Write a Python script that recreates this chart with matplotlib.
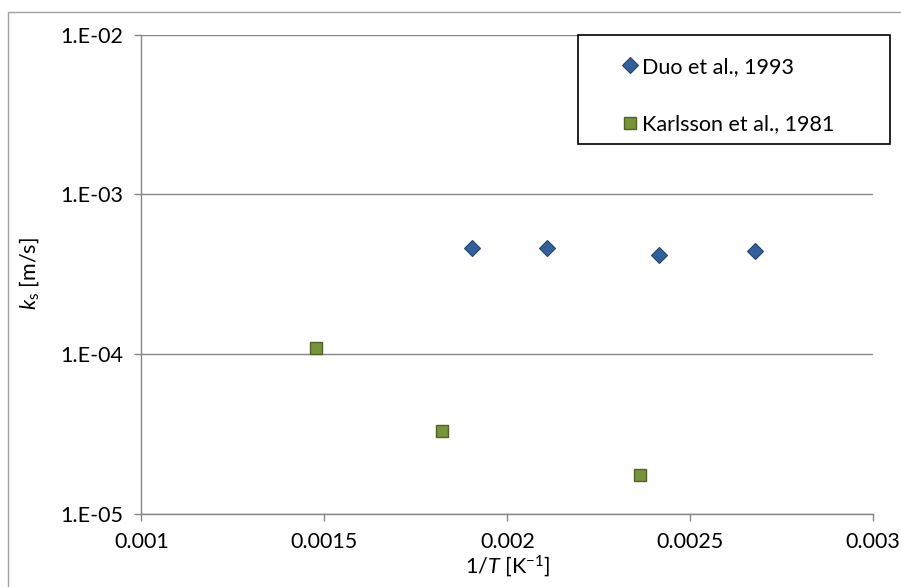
import matplotlib
matplotlib.use('Agg')
import matplotlib.pyplot as plt
from matplotlib.patches import Rectangle
from matplotlib.ticker import FixedLocator, FixedFormatter, NullLocator

plt.rcParams['font.family'] = ['Lato', 'DejaVu Sans']
plt.rcParams['mathtext.fontset'] = 'custom'
plt.rcParams['mathtext.rm'] = 'Lato'
plt.rcParams['mathtext.it'] = 'Lato:italic'

# inverse temperature [1/K] and surface rate constant [m/s]
duo_x = [0.001904, 0.002108, 0.002414, 0.002676]
duo_k = [4.64e-4, 4.64e-4, 4.15e-4, 4.40e-4]
karlsson_x = [0.001477, 0.001822, 0.002363]
karlsson_k = [1.09e-4, 3.30e-5, 1.74e-5]

x_ticks = [0.001, 0.0015, 0.002, 0.0025, 0.003]
x_tick_labels = ['0.001', '0.0015', '0.002', '0.0025', '0.003']
y_ticks = [1e-5, 1e-4, 1e-3, 1e-2]
y_tick_labels = ['1.E-05', '1.E-04', '1.E-03', '1.E-02']

W, H = 901, 587
fs = 15.5
fig = plt.figure(figsize=(W / 100, H / 100), dpi=100)
ax = fig.add_axes([141.3 / W, 1 - 513.7 / H, 732 / W, 479.1 / H])

grey = '#868686'
ax.plot(duo_x, duo_k, linestyle='none', marker='D', markersize=8.6,
        markerfacecolor='#33609A', markeredgecolor='#24466F', markeredgewidth=0.8,
        label='Duo et al., 1993', zorder=3)
ax.plot(karlsson_x, karlsson_k, linestyle='none', marker='s', markersize=8.6,
        markerfacecolor='#77933C', markeredgecolor='#4F6228', markeredgewidth=1.0,
        label='Karlsson et al., 1981', zorder=3)

ax.set_yscale('log')
ax.set_xlim(x_ticks[0], x_ticks[-1])
ax.set_ylim(y_ticks[0], y_ticks[-1])
ax.xaxis.set_major_locator(FixedLocator(x_ticks))
ax.xaxis.set_major_formatter(FixedFormatter(x_tick_labels))
ax.yaxis.set_major_locator(FixedLocator(y_ticks))
ax.yaxis.set_major_formatter(FixedFormatter(y_tick_labels))
ax.yaxis.set_minor_locator(NullLocator())

ax.grid(axis='y', color=grey, linewidth=1.0)
ax.grid(axis='x', visible=False)
ax.set_axisbelow(True)
for side in ('top', 'right'):
    ax.spines[side].set_visible(False)
for side in ('left', 'bottom'):
    ax.spines[side].set_color(grey)
    ax.spines[side].set_linewidth(1.0)
ax.tick_params(axis='both', which='major', color=grey, length=5, width=1.0,
               labelsize=fs, pad=8, labelcolor='black')

ax.set_xlabel(r'1/$T$ [K$^{-1}$]', fontsize=fs, labelpad=1)
ax.set_ylabel(r'$k_\mathrm{s}$ [m/s]', fontsize=fs, labelpad=14)

# outer chart border
fig.patches.append(Rectangle((8 / W, -0.1), 1.2, 1.1 - 12 / H,
                             transform=fig.transFigure, fill=False,
                             edgecolor='#a0a0a0', linewidth=1.0))

# legend box
fig.patches.append(Rectangle((578 / W, 1 - 144 / H), 312 / W, 109 / H,
                             transform=fig.transFigure, facecolor='white',
                             edgecolor='black', linewidth=1.2, zorder=5))
leg = fig.legend(loc='upper left', bbox_to_anchor=(613 / W, 1 - 46 / H),
                 frameon=False, fontsize=fs, handlelength=0.55,
                 handletextpad=0.3, labelspacing=1.75, borderpad=0)
leg.set_zorder(6)

fig.savefig('out.png', dpi=100)
